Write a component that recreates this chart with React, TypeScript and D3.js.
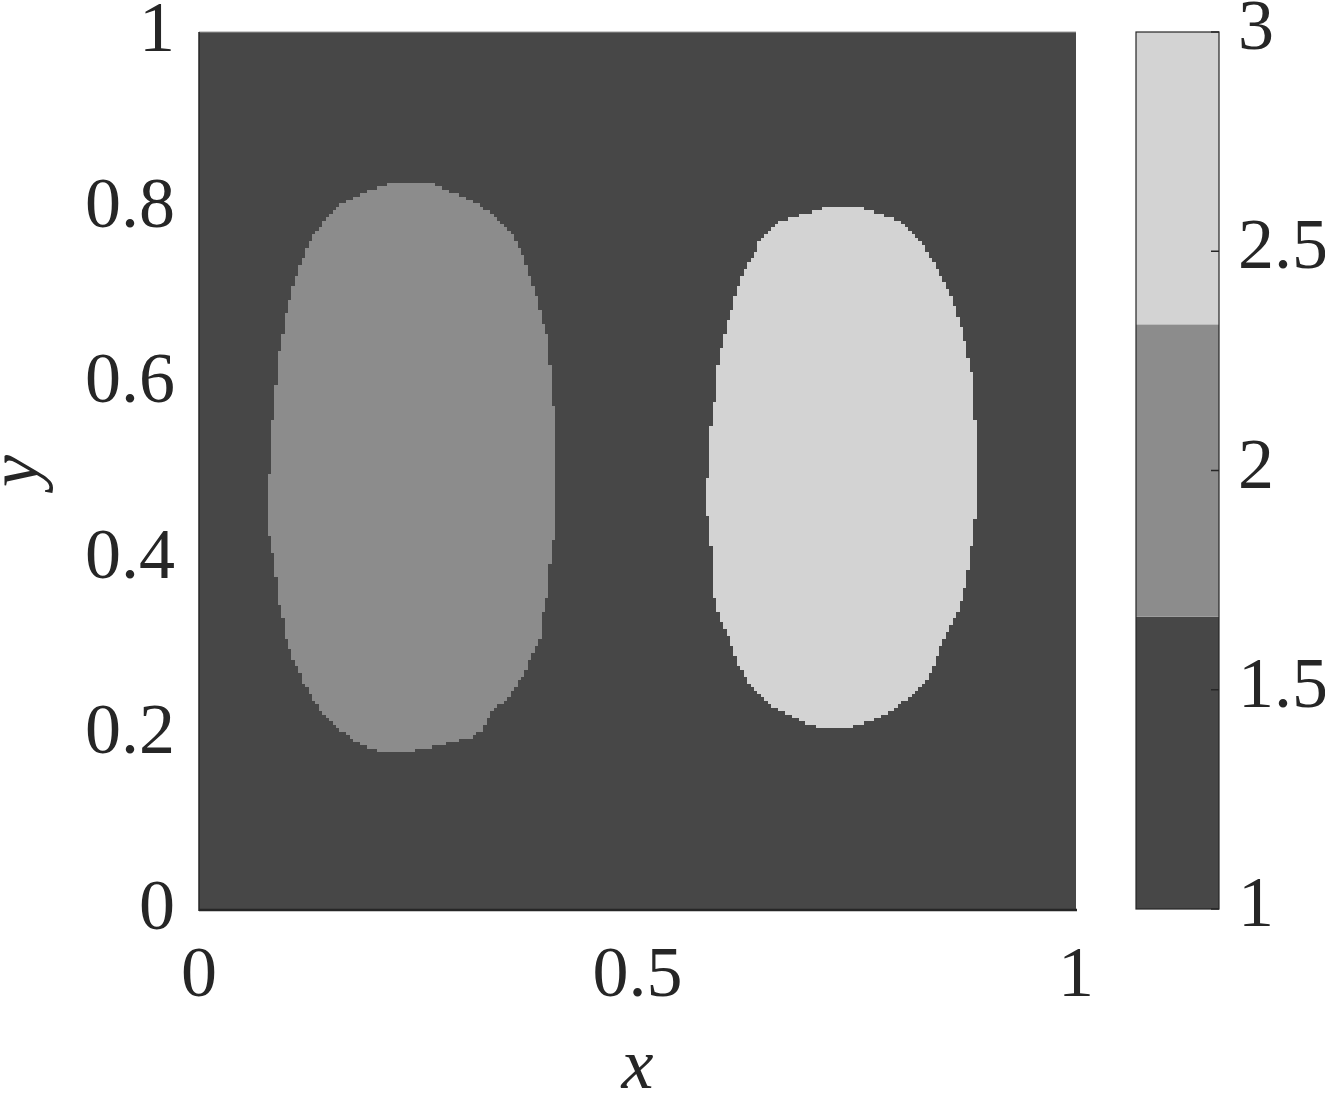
import React, { useMemo } from "react";
import * as d3 from "d3";

// ---- data ----
const xTicks = [0, 0.5, 1];
const yTicks = [0, 0.2, 0.4, 0.6, 0.8, 1];
const cbTicks = [1, 1.5, 2, 2.5, 3];
const levels = [1, 2, 3];
const levelColors = ["#474747", "#8c8c8c", "#d3d3d3"];
const gridN = 256;
const backgroundValue = 1;

const blobLeftValue = 2;
const blobLeft: [number, number][] = [
  [0.218, 0.827], [0.267, 0.827],
  [0.283, 0.820], [0.317, 0.805], [0.343, 0.786], [0.358, 0.767], [0.368, 0.748],
  [0.375, 0.729], [0.381, 0.710], [0.387, 0.691], [0.392, 0.672], [0.397, 0.653],
  [0.399, 0.634], [0.401, 0.615], [0.404, 0.581], [0.406, 0.524], [0.407, 0.467],
  [0.408, 0.448], [0.404, 0.421], [0.400, 0.391], [0.397, 0.361], [0.395, 0.345],
  [0.392, 0.338], [0.391, 0.319], [0.387, 0.304], [0.381, 0.293], [0.374, 0.277],
  [0.369, 0.265], [0.358, 0.251], [0.351, 0.239], [0.335, 0.228], [0.323, 0.205],
  [0.317, 0.202], [0.311, 0.196], [0.298, 0.194], [0.275, 0.188], [0.250, 0.182],
  [0.210, 0.179],
  [0.192, 0.186], [0.176, 0.194], [0.157, 0.208], [0.146, 0.220], [0.136, 0.231],
  [0.127, 0.247], [0.119, 0.259], [0.113, 0.273], [0.107, 0.288], [0.100, 0.308],
  [0.095, 0.334], [0.090, 0.353], [0.087, 0.391], [0.081, 0.418], [0.078, 0.448],
  [0.079, 0.467], [0.081, 0.524], [0.086, 0.581], [0.090, 0.615], [0.091, 0.634],
  [0.095, 0.653], [0.098, 0.672], [0.103, 0.691], [0.107, 0.710], [0.113, 0.729],
  [0.121, 0.748], [0.130, 0.767], [0.144, 0.786], [0.164, 0.805], [0.195, 0.820],
];

const blobRightValue = 3;
const blobRight: [number, number][] = [
  [0.714, 0.800], [0.756, 0.800],
  [0.803, 0.783], [0.822, 0.763], [0.834, 0.744], [0.845, 0.726], [0.854, 0.706],
  [0.862, 0.687], [0.868, 0.669], [0.873, 0.649], [0.877, 0.630], [0.881, 0.612],
  [0.883, 0.592], [0.886, 0.535], [0.887, 0.490], [0.886, 0.456], [0.883, 0.433],
  [0.879, 0.395], [0.873, 0.365], [0.864, 0.338], [0.854, 0.319], [0.845, 0.300],
  [0.839, 0.281], [0.830, 0.262], [0.811, 0.243], [0.791, 0.228], [0.769, 0.216],
  [0.739, 0.207],
  [0.706, 0.207],
  [0.685, 0.216], [0.659, 0.228], [0.640, 0.243], [0.625, 0.262], [0.614, 0.281],
  [0.608, 0.300], [0.600, 0.319], [0.592, 0.338], [0.586, 0.365], [0.585, 0.395],
  [0.583, 0.433], [0.579, 0.456], [0.580, 0.490], [0.582, 0.535], [0.590, 0.592],
  [0.591, 0.612], [0.593, 0.630], [0.598, 0.649], [0.602, 0.669], [0.608, 0.687],
  [0.614, 0.706], [0.620, 0.726], [0.631, 0.744], [0.640, 0.763], [0.660, 0.783],
];

const blobs = [
  { value: blobLeftValue, poly: blobLeft },
  { value: blobRightValue, poly: blobRight },
];

// ---- layout ----
const W = 1325;
const H = 1097;
const plot = { left: 199, right: 1076, top: 32, bottom: 910 };
const cb = { left: 1136, right: 1219, top: 32, bottom: 909 };
const FONT = "'Liberation Serif', 'DejaVu Serif', serif";
const TXT = "#262626";
const FS = 72;

export default function App() {
  const x = d3.scaleLinear().domain([0, 1]).range([plot.left, plot.right]);
  const y = d3.scaleLinear().domain([0, 1]).range([plot.bottom, plot.top]);
  const cbY = d3.scaleLinear().domain([1, 3]).range([cb.bottom, cb.top]);
  const color = d3.scaleOrdinal<number, string>().domain(levels).range(levelColors);

  const paths = useMemo(() => {
    const out: Record<number, string> = {};
    levels.forEach((l) => (out[l] = ""));
    for (let j = 0; j < gridN; j++) {
      const yc = (j + 0.5) / gridN;
      const y0 = y(j / gridN);
      const y1 = y((j + 1) / gridN);
      let runVal = backgroundValue;
      let runStart = 0;
      const flush = (end: number) => {
        if (runVal !== backgroundValue) {
          const xa = x(runStart / gridN);
          const xb = x(end / gridN);
          out[runVal] += `M${xa},${y1}H${xb}V${y0}H${xa}Z`;
        }
      };
      for (let i = 0; i <= gridN; i++) {
        let v = backgroundValue;
        if (i < gridN) {
          const xc = (i + 0.5) / gridN;
          for (const b of blobs) {
            if (d3.polygonContains(b.poly, [xc, yc])) v = b.value;
          }
        }
        if (i === gridN || v !== runVal) {
          flush(i);
          runVal = v;
          runStart = i;
        }
      }
    }
    return out;
  }, []);

  const bandH = (3 - 1) / levels.length;

  return (
    <svg
      width={W}
      height={H}
      style={{ position: "absolute", left: 0, top: 0, background: "#fff" }}
      fontFamily={FONT}
    >
      {/* field */}
      <rect
        x={plot.left}
        y={plot.top}
        width={plot.right - plot.left}
        height={plot.bottom - plot.top}
        fill={color(backgroundValue)}
      />
      {levels
        .filter((l) => l !== backgroundValue)
        .map((l) => (
          <path key={l} d={paths[l]} fill={color(l)} shapeRendering="crispEdges" />
        ))}
      {/* axes lines */}
      <line x1={plot.left} x2={plot.right} y1={plot.top} y2={plot.top} stroke="#9a9a9a" strokeWidth={1} />
      <line x1={plot.left} x2={plot.left} y1={plot.top} y2={plot.bottom + 1} stroke={TXT} strokeWidth={1.5} />
      <line x1={plot.left} x2={plot.right + 1} y1={plot.bottom} y2={plot.bottom} stroke={TXT} strokeWidth={2.5} />

      {/* y tick labels */}
      {yTicks.map((t) => (
        <text key={t} x={175} y={y(t) + 19} textAnchor="end" fontSize={FS} fill={TXT}>
          {t === 0 || t === 1 ? String(t) : String(t)}
        </text>
      ))}
      {/* x tick labels */}
      {xTicks.map((t) => (
        <text key={t} x={x(t)} y={996} textAnchor="middle" fontSize={FS} fill={TXT}>
          {String(t)}
        </text>
      ))}
      {/* axis labels */}
      <text x={(plot.left + plot.right) / 2} y={1088} textAnchor="middle" fontSize={FS} fontStyle="italic" fill={TXT}>
        x
      </text>
      <text
        transform={`translate(38, ${(plot.top + plot.bottom) / 2}) rotate(-90)`}
        textAnchor="middle"
        fontSize={FS}
        fontStyle="italic"
        fill={TXT}
      >
        y
      </text>

      {/* colorbar */}
      {levels.map((l, k) => (
        <rect
          key={l}
          x={cb.left}
          width={cb.right - cb.left}
          y={cbY(1 + (k + 1) * bandH)}
          height={cbY(1 + k * bandH) - cbY(1 + (k + 1) * bandH)}
          fill={color(l)}
        />
      ))}
      <rect
        x={cb.left}
        y={cb.top}
        width={cb.right - cb.left}
        height={cb.bottom - cb.top}
        fill="none"
        stroke={TXT}
        strokeWidth={1.2}
      />
      {cbTicks.map((t) => (
        <g key={t}>
          <line x1={cb.right - 8} x2={cb.right} y1={cbY(t)} y2={cbY(t)} stroke={TXT} strokeWidth={1.5} />
          <text x={1238} y={cbY(t) + 17} fontSize={FS} fill={TXT}>
            {String(t)}
          </text>
        </g>
      ))}
    </svg>
  );
}
